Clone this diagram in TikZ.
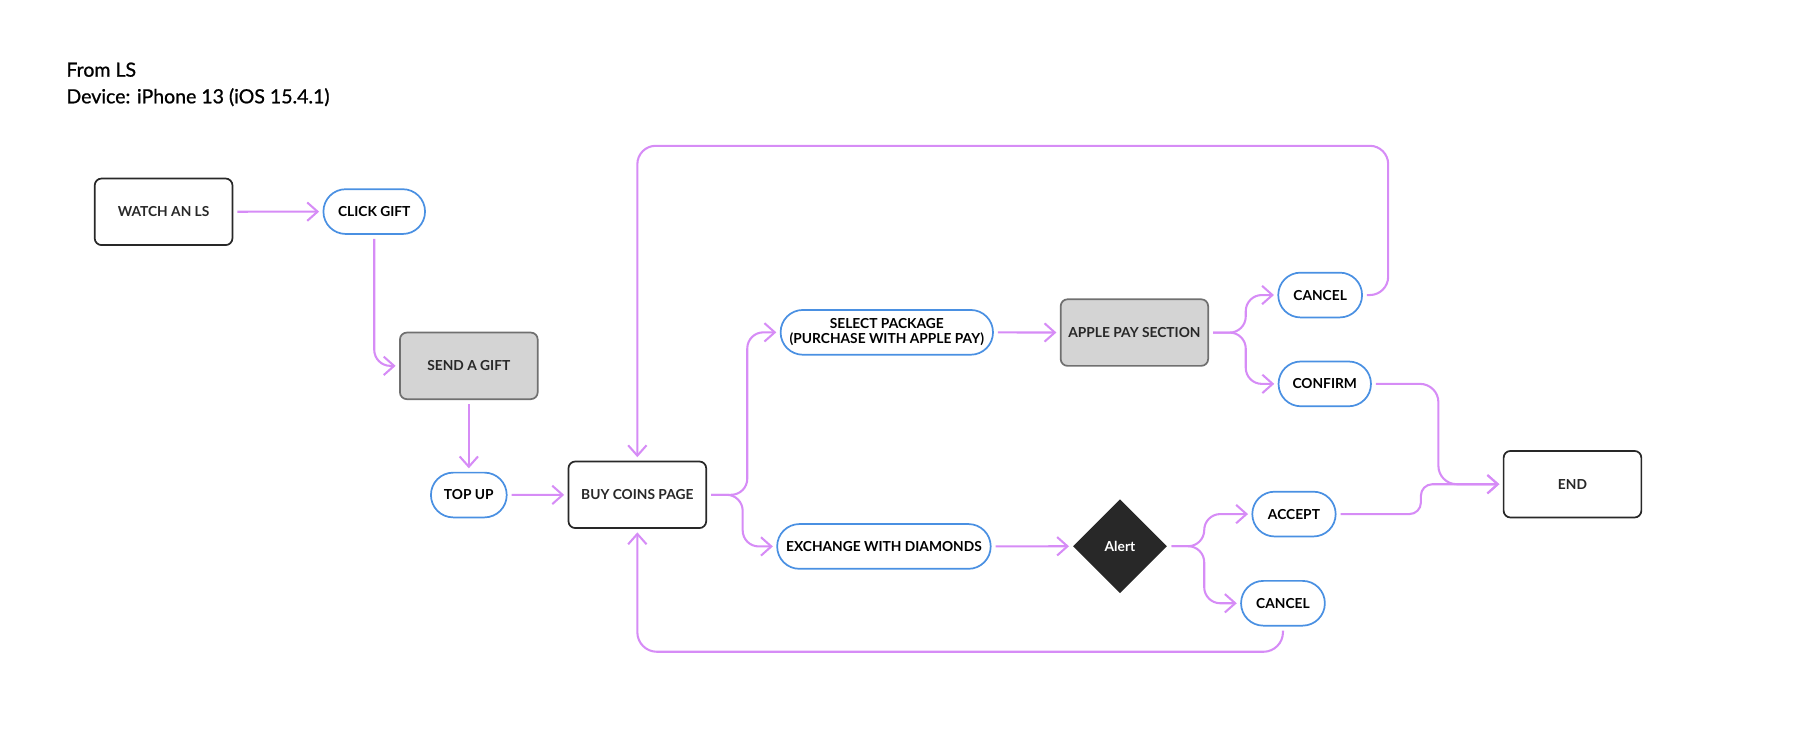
\documentclass[tikz,border=0pt]{standalone}
\usepackage{fontspec}
\setmainfont{Lato}
\newfontfamily\headfont[FakeBold=0.9]{Lato}
\usepackage{tikz}
\usetikzlibrary{arrows.meta,positioning,shapes.geometric}
\definecolor{flowviolet}{RGB}{214,140,246}
\definecolor{pillblue}{RGB}{74,144,226}
\definecolor{boxgray}{RGB}{212,212,212}
\definecolor{edgegray}{RGB}{112,112,112}
\definecolor{inkdark}{RGB}{40,40,40}

\begin{document}
\begin{tikzpicture}[x=0.5pt,y=-0.5pt,
font=\fontsize{6}{6.4}\selectfont\bfseries,
page/.style={draw=inkdark,line width=0.75pt,rounded corners=3pt,minimum width=60pt,minimum height=29pt,fill=white,text=inkdark},
screen/.style={draw=edgegray,line width=0.75pt,rounded corners=3pt,minimum width=60pt,minimum height=29pt,fill=boxgray,text=inkdark},
pill/.style={draw=pillblue,line width=0.75pt,rounded corners=9.7pt,minimum height=19.5pt,inner xsep=0pt,text=black,align=center},
decide/.style={diamond,fill=inkdark,text=white,minimum width=41pt,minimum height=41pt,inner sep=0pt},
flow/.style={draw=flowviolet,line width=0.9pt,-{Straight Barb[length=4.5pt,width=8pt]},shorten <=1.75pt,shorten >=1.5pt,rounded corners=7pt}]
\useasboundingbox (0,0) rectangle (1568,638.5);
\node[anchor=base west,inner sep=0pt,font=\fontsize{8.5}{10}\headfont] (T1) at (57.5,66.8) {From LS};
\node[anchor=base west,inner sep=0pt,font=\fontsize{8.5}{10}\headfont] (T2) at (57.5,90) {Device: iPhone 13 (iOS 15.4.1)};
\node[page] (WL) at (142.5,184.5) {WATCH AN LS};
\node[pill,minimum width=44.25pt] (CG) at (326,184.3) {CLICK GIFT};
\node[screen] (SG) at (408.4,318.7) {SEND A GIFT};
\node[pill,minimum width=33pt] (TU) at (408.4,431.2) {TOP UP};
\node[page] (BC) at (555.2,431) {BUY COINS PAGE};
\node[pill,minimum width=92.5pt] (SP) at (772.5,289.5) {SELECT PACKAGE\\(PURCHASE WITH APPLE PAY)};
\node[pill,minimum width=93pt] (EX) at (770,476) {EXCHANGE WITH DIAMONDS};
\node[screen] (AP) at (988.2,289.7) {APPLE PAY SECTION};
\node[pill,minimum width=36.5pt] (CA) at (1150,257) {CANCEL};
\node[pill,minimum width=40.25pt] (CF) at (1154,334.4) {CONFIRM};
\node[decide] (AL) at (975.6,475.8) {Alert};
\node[pill,minimum width=36.3pt] (AC) at (1127.2,447.8) {ACCEPT};
\node[pill,minimum width=36.5pt] (CB) at (1117.6,525.5) {CANCEL};
\node[page] (EN) at (1369.8,421.8) {END};
\path[flow]
(WL) edge (CG)
(SG) edge (TU)
(TU) edge (BC)
(SP) edge (AP)
(EX) edge (AL);
\draw[flow] (CG.south) |- (SG.west);
\draw[flow] (BC.east) -- ++(35,0) |- (SP.west);
\draw[flow] (BC.east) -- ++(31,0) |- (EX.west);
\draw[flow] (AP.east) -- ++(32,0) |- (CA.west);
\draw[flow] (AP.east) -- ++(32,0) |- (CF.west);
\draw[flow] (AL.east) -- ++(32,0) |- (AC.west);
\draw[flow] (AL.east) -- ++(32,0) |- (CB.west);
\draw[flow,rounded corners=8pt] (CF.east) -- ++(58,0) |- (EN.west);
\draw[flow,rounded corners=5pt] (AC.east) -- ++(73.5,0) |- (EN.west);
\draw[flow,rounded corners=8pt] (CA.east) -- ++(22,0) -- ++(0,-130) -| (BC.north);
\draw[flow,rounded corners=8.5pt] (CB.south) -- ++(0,22) -| (BC.south);
\end{tikzpicture}
\end{document}
